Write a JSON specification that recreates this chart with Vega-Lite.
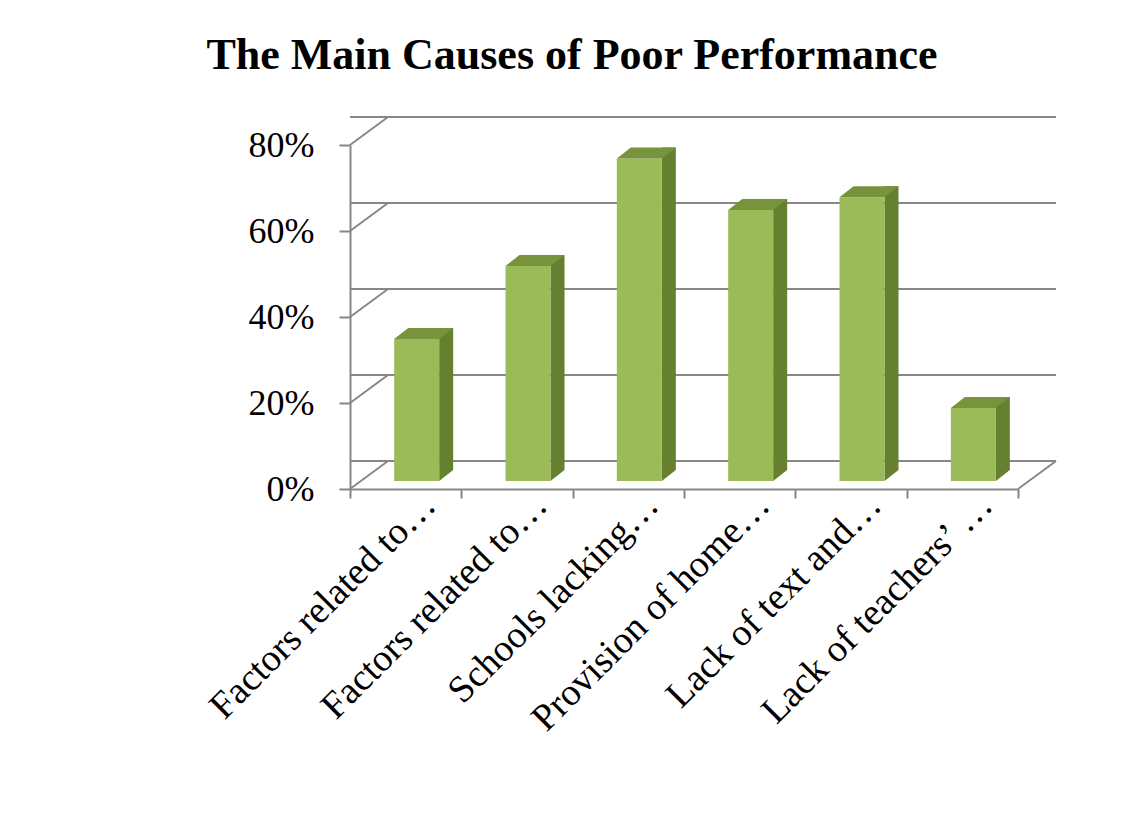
{
  "$schema": "https://vega.github.io/schema/vega-lite/v6.json",
  "width": 668,
  "height": 344,
  "autosize": {"type": "none"},
  "padding": {"left": 350, "top": 145, "right": 113, "bottom": 329},
  "background": "white",
  "config": {"view": {"stroke": null}, "font": "Liberation Serif"},
  "title": {
    "text": "The Main Causes of Poor Performance",
    "font": "Liberation Serif",
    "fontSize": 44,
    "fontWeight": "bold",
    "color": "black",
    "anchor": "middle",
    "baseline": "alphabetic",
    "dx": -112,
    "offset": 0
  },
  "datasets": {
    "causes": [
      {"cause": "Factors related to…", "share": 0.33},
      {"cause": "Factors related to…\u200b", "share": 0.50},
      {"cause": "Schools lacking…", "share": 0.75},
      {"cause": "Provision of home…", "share": 0.63},
      {"cause": "Lack of text and…", "share": 0.66},
      {"cause": "Lack of teachers’ …", "share": 0.17}
    ],
    "levels": [
      {"level": 0}, {"level": 0.2}, {"level": 0.4}, {"level": 0.6}, {"level": 0.8}
    ]
  },
  "layer": [
    {
      "description": "back wall gridlines",
      "data": {"name": "levels"},
      "mark": {"type": "rule", "color": "#878787", "strokeWidth": 2, "xOffset": 38, "x2Offset": 38, "yOffset": -28},
      "encoding": {
        "y": {"field": "level", "type": "quantitative", "scale": {"domain": [0, 0.8], "nice": false, "zero": true},
          "axis": {
            "values": [0, 0.2, 0.4, 0.6, 0.8],
            "format": ".0%",
            "grid": false,
            "title": null,
            "domainColor": "#878787",
            "domainWidth": 2,
            "tickColor": "#878787",
            "tickWidth": 2,
            "tickSize": 11,
            "labelFont": "Liberation Serif",
            "labelFontSize": 36,
            "labelColor": "black",
            "labelPadding": 25
          }
        }
      }
    },
    {
      "description": "side wall gridlines",
      "data": {"name": "levels"},
      "mark": {"type": "point", "shape": "M0,0L38,-28", "size": 4, "filled": false, "stroke": "#878787", "strokeWidth": 2, "opacity": 1},
      "encoding": {
        "x": {"datum": "Factors related to…", "type": "nominal", "bandPosition": 0},
        "y": {"field": "level", "type": "quantitative"}
      }
    },
    {
      "description": "floor edge on the right",
      "data": {"name": "levels"},
      "transform": [{"filter": "datum.level === 0"}],
      "mark": {"type": "point", "shape": "M0,0L38,-28", "size": 4, "filled": false, "stroke": "#878787", "strokeWidth": 2, "opacity": 1},
      "encoding": {
        "x": {"datum": "Lack of teachers’ …", "type": "nominal", "bandPosition": 1},
        "y": {"field": "level", "type": "quantitative"}
      }
    },
    {
      "description": "bar side faces",
      "data": {"name": "causes"},
      "mark": {"type": "bar", "color": "#65802F", "width": 14, "xOffset": 40.5, "yOffset": -19, "y2Offset": -19},
      "encoding": {
        "x": {
          "field": "cause",
          "type": "nominal",
          "sort": null,
          "scale": {
            "domain": ["Factors related to…", "Factors related to…\u200b", "Schools lacking…", "Provision of home…", "Lack of text and…", "Lack of teachers’ …"],
            "paddingInner": 0,
            "paddingOuter": 0
          },
          "axis": {
            "title": null,
            "tickBand": "extent",
            "tickSize": 9,
            "tickColor": "#878787",
            "tickWidth": 2,
            "domainColor": "#878787",
            "domainWidth": 2,
            "labelAngle": -45,
            "labelAlign": "right",
            "labelBaseline": "middle",
            "labelFont": "Liberation Serif",
            "labelFontSize": 38,
            "labelColor": "black",
            "labelOffset": 24,
            "labelPadding": 1,
            "labelLimit": 500,
            "labelOverlap": false
          }
        },
        "y": {"field": "share", "type": "quantitative"},
        "y2": {"datum": 0}
      }
    },
    {
      "description": "bar side faces, lower corner",
      "data": {"name": "causes"},
      "mark": {"type": "point", "shape": "M33.5,-19L33.5,-8L47.5,-19Z", "size": 4, "filled": true, "color": "#65802F", "opacity": 1, "strokeWidth": 0},
      "encoding": {
        "x": {"field": "cause", "type": "nominal", "sort": null},
        "y": {"datum": 0, "type": "quantitative"}
      }
    },
    {
      "description": "bar front faces",
      "data": {"name": "causes"},
      "mark": {"type": "bar", "color": "#9BBB59", "width": 45, "xOffset": 11, "yOffset": -8, "y2Offset": -8},
      "encoding": {
        "x": {"field": "cause", "type": "nominal", "sort": null},
        "y": {"field": "share", "type": "quantitative"},
        "y2": {"datum": 0}
      }
    },
    {
      "description": "bar top faces",
      "data": {"name": "causes"},
      "mark": {"type": "point", "shape": "M-11.5,-8L33.5,-8L47.5,-19L2.5,-19Z", "size": 4, "filled": true, "color": "#77933C", "opacity": 1, "strokeWidth": 0},
      "encoding": {
        "x": {"field": "cause", "type": "nominal", "sort": null},
        "y": {"field": "share", "type": "quantitative"}
      }
    }
  ]
}
